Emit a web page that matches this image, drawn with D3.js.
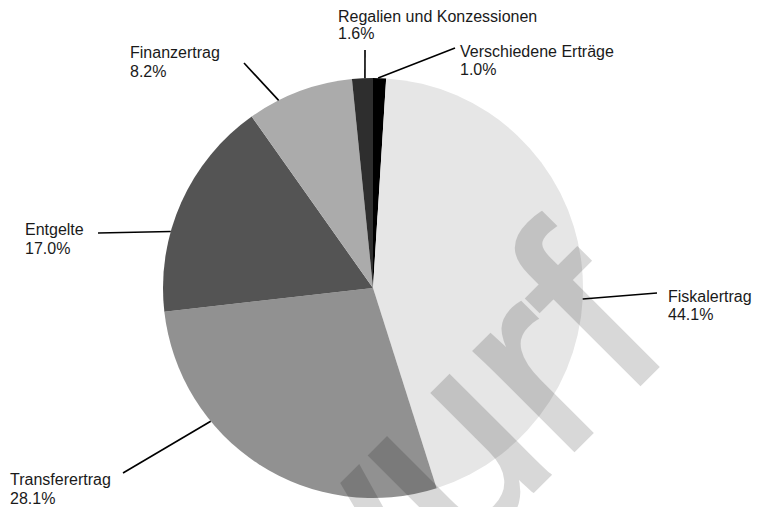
<!DOCTYPE html>
<html>
<head>
<meta charset="utf-8">
<script src="https://cdn.jsdelivr.net/npm/d3@7"></script>
<style>
  body { margin: 0; background: #fff; }
  text { font-family: "Liberation Sans", Arial, sans-serif; }
</style>
</head>
<body>
<svg id="piechart" width="769" height="507"></svg>
<script>
// data
const categories = ["Verschiedene Erträge", "Fiskalertrag", "Transferertrag", "Entgelte", "Finanzertrag", "Regalien und Konzessionen"]
const shares = [1.0, 44.1, 28.1, 17.0, 8.2, 1.6]
const shareLabels = ["1.0%", "44.1%", "28.1%", "17.0%", "8.2%", "1.6%"]
const colors = ["#000000", "#e6e6e6", "#919191", "#545454", "#ababab", "#2e2e2e"]

// where the leader line touches the pie (deg, clockwise from top),
// leader end x/y, text x and first baseline
const attachAngle = [1.4, 93, 230.6, 285.6, 333.3, 357.8]
const labelAt = [[455, 48, 460, 57], [657, 293, 668, 302], [123, 473, 10, 485], [98, 233, 25, 235], [244, 63, 130, 58], [365, 50, 338, 22]]
const lineGap = [18, 18, 19, 19, 19, 17]

const svg_ = d3.select('#piechart')
const width = +svg_.attr('width')
const height = +svg_.attr('height')
const cx = 373, cy = 288
const radius = 210

const svg = svg_.append("g")
  .attr("transform", `translate(${cx}, ${cy})`)

const data = categories.map((c, i) => ({ key: c, value: shares[i], label: shareLabels[i], color: colors[i] }))

const pie = d3.pie()
  .value(d => d.value)
  .sort(null)

const arcGenerator = d3.arc()
  .innerRadius(0)
  .outerRadius(radius)

const data_ready = pie(data)

svg.selectAll("path")
  .data(data_ready)
  .join("path")
  .attr("d", arcGenerator)
  .attr("fill", d => d.data.color)

// leader lines
svg_.selectAll("line.leader")
  .data(data_ready)
  .join("line")
  .attr("class", "leader")
  .attr("x1", (d, i) => cx + radius * Math.sin(attachAngle[i] * Math.PI / 180))
  .attr("y1", (d, i) => cy - radius * Math.cos(attachAngle[i] * Math.PI / 180))
  .attr("x2", (d, i) => labelAt[i][0])
  .attr("y2", (d, i) => labelAt[i][1])
  .attr("stroke", "#000")
  .attr("stroke-width", 1.6)

const labels = svg_.selectAll("text.lbl")
  .data(data_ready)
  .join("text")
  .attr("class", "lbl")
  .attr("x", (d, i) => labelAt[i][2])
  .attr("y", (d, i) => labelAt[i][3])
  .style("font-size", "16px")
  .style("fill", "#1a1a1a")

labels.append("tspan")
  .text(d => d.data.key)
labels.append("tspan")
  .attr("x", (d, i) => labelAt[i][2])
  .attr("dy", (d, i) => lineGap[i])
  .text(d => d.data.label)

// watermark
svg_.append("g")
  .attr("opacity", 0.15)
  .append("text")
  .attr("transform", "translate(676, 348) rotate(-45)")
  .attr("text-anchor", "end")
  .style("font-size", "265px")
  .style("fill", "#000")
  .style("stroke", "#000")
  .style("stroke-width", 4)
  .text("Entwurf")
</script>
</body>
</html>
